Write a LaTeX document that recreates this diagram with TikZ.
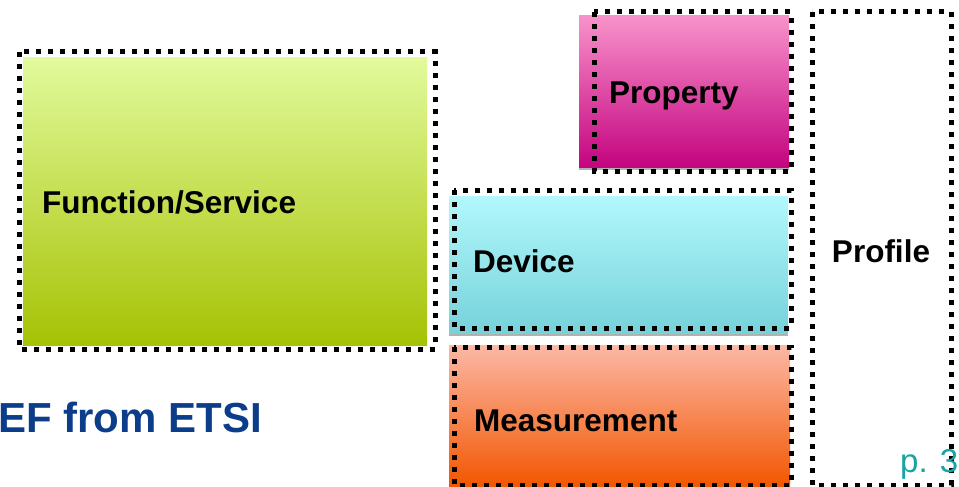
\documentclass[tikz,border=0pt]{standalone}
\usepackage{fontspec}
\setmainfont{Liberation Sans}
\definecolor{funtop}{HTML}{E2FA9C}
\definecolor{funbot}{HTML}{A6C204}
\definecolor{proptop}{HTML}{F892CA}
\definecolor{propbot}{HTML}{C40480}
\definecolor{devtop}{HTML}{B2F8FC}
\definecolor{devbot}{HTML}{76D2DA}
\definecolor{meastop}{HTML}{FCB8A6}
\definecolor{measbot}{HTML}{F25600}
\definecolor{titleblue}{HTML}{0B3D8A}
\definecolor{pageteal}{HTML}{18A4A4}

\begin{document}
\begin{tikzpicture}[x=1pt,y=-1pt,
  dots/.style={draw=black,line width=5pt,dash pattern=on 5pt off 7pt},
  shadow/.style={fill=black!30},
  lbl/.style={anchor=base west,inner sep=0pt,font=\fontsize{31.5}{37}\selectfont\bfseries}]
\useasboundingbox (0,0) rectangle (959,487);
\shade[top color=funtop,bottom color=funbot] (23,58) rectangle (427,345);
\fill[shadow] (579,19) rectangle (789,170);
\shade[top color=proptop,bottom color=propbot] (579,16) rectangle (789,167);
\fill[shadow] (449,199) rectangle (788,336);
\shade[top color=devtop,bottom color=devbot] (449,196) rectangle (788,333);
\shade[top color=meastop,bottom color=measbot] (449,345) rectangle (790,487);
\draw[dots] (19,52) rectangle (435,349);
\draw[dots] (594,12) rectangle (791,171);
\draw[dots] (454,190) rectangle (791,328);
\draw[dots] (454,347) rectangle (791,485);
\draw[dots] (812,12) rectangle (951,485);
\node[lbl] (func) at (42,213) {Function/Service};
\node[lbl] (prop) at (609,103) {Property};
\node[lbl] (dev)  at (473,272) {Device};
\node[lbl] (meas) at (474,431) {Measurement};
\node[lbl,anchor=base] (prof) at (881,262) {Profile};
\node[anchor=base west,inner sep=0pt,text=titleblue,font=\fontsize{42}{48}\selectfont\bfseries]
  (title) at (-2,432) {EF from ETSI};
\node[anchor=base east,inner sep=0pt,text=pageteal,font=\fontsize{33}{38}\selectfont]
  (page) at (958.5,472) {p. 3};
\end{tikzpicture}
\end{document}
